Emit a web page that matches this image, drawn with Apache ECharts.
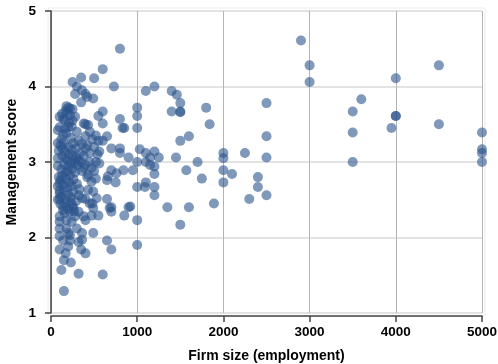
<!DOCTYPE html>
<html><head><meta charset="utf-8">
<script src="https://cdn.jsdelivr.net/npm/echarts@6/dist/echarts.min.js"></script>
<style>html,body{margin:0;padding:0;background:#fff}#c{width:498px;height:364px}</style>
</head><body><div id="c"></div>
<script>
const xTicks = [0, 1000, 2000, 3000, 4000, 5000];
const yTicks = [1, 2, 3, 4, 5];
const largeFirms = [
[2250,3.12],[2300,2.51],[2400,2.80],[2400,2.67],[2500,3.78],[2500,3.34],[2500,3.06],[2500,2.56],
[2900,4.61],[3000,4.28],[3000,4.06],[3500,3.67],[3500,3.39],[3500,3.00],[3600,3.83],
[3950,3.45],[4000,4.11],[4000,3.61],[4000,3.61],[4500,4.28],[4500,3.50],
[5000,3.39],[5000,3.17],[5000,3.12],[5000,3.00]
];
const midFirms = [
[800,4.50],[600,4.23],[730,4.00],[1100,3.94],[1200,4.00],[1400,3.94],[1460,3.89],[1500,3.78],[1400,3.67],[1500,3.67],[1500,3.66],[1800,3.72],[1840,3.50],[1600,3.34],[1500,3.28],
[1000,3.72],[1000,3.61],[1000,3.45],[800,3.57],[850,3.45],[600,3.67],[600,3.51],[650,3.34],[830,3.45],
[700,3.18],[800,3.18],[800,3.12],[900,3.06],[1030,3.17],[1000,3.00],[1100,3.12],[1100,3.00],[1150,3.06],[1200,3.14],[1250,3.06],[1150,2.96],[1200,2.94],[1200,2.84],
[1450,3.06],[1700,3.00],[1570,2.89],[1750,2.78],[2000,3.12],[2000,3.05],[2000,2.89],[2000,2.73],[2100,2.84],
[950,2.89],[840,2.89],[700,2.89],[660,2.81],[760,2.85],[750,2.73],[650,2.76],[1000,2.67],[1090,2.67],[1100,2.73],[1200,2.67],[1200,2.56],
[1350,2.40],[1600,2.40],[1500,2.17],[1890,2.45],[900,2.40],[850,2.29],[1000,2.23],[1000,1.90],[700,2.40],[700,2.34],[650,2.51],[680,2.39],[920,2.41],[650,1.96],[700,1.84],[600,1.51]
];
const smallFirms = [
[500,4.11],[350,4.12],[250,4.06],[300,4.00],[360,3.95],[280,3.90],[400,3.90],[490,3.84],[420,3.86],[350,3.79],[220,3.71],[170,3.68],[200,3.72],[250,3.70],[180,3.74],[140,3.57],[550,3.61],
[100,3.46],[200,3.46],[380,3.51],[430,3.49],[400,3.50],
[550,3.28],[600,3.28],[470,2.92],[430,2.83],[470,2.74],[490,2.61],[430,2.63],[530,2.52],[450,2.45],[490,2.39],[260,2.39],[140,2.36],
[150,1.29],[320,1.52],[120,1.57],[490,2.06],[400,1.79],[350,1.84],[400,2.23],[470,2.29],[550,2.29],[230,1.67],[150,1.70],[170,1.79],[100,1.84],[200,1.88],[140,1.96],[100,2.02],[220,1.96],[320,1.94],[360,1.97],[360,2.06],[220,2.03],[100,2.12],[180,2.12],[300,2.12],[100,2.21],[240,2.21],[100,2.28],[160,2.32],[220,2.34],[380,2.28],[280,2.28],[320,2.34],[270,2.34],[180,2.23],[200,2.06],
[480,2.45],[400,2.51],[100,2.51],[100,2.62],[100,2.72]
];
const denseCluster = [
[80,3.42],[120,3.30],[150,3.25],[180,3.38],[200,3.20],[230,3.32],[260,3.25],[290,3.18],[320,3.28],[340,3.12],
[90,3.15],[130,3.08],[160,3.14],[190,3.02],[210,3.10],[240,3.16],[270,3.04],[300,3.06],[350,3.00],[400,3.18],
[80,2.95],[120,2.90],[150,2.97],[170,2.86],[200,2.94],[220,2.82],[250,2.91],[280,2.86],[310,2.96],[360,2.88],
[90,2.80],[110,2.76],[140,2.70],[170,2.78],[190,2.66],[210,2.73],[240,2.68],[260,2.77],[300,2.71],[330,2.64],
[100,2.58],[120,2.54],[150,2.62],[180,2.50],[200,2.57],[230,2.53],[260,2.60],[290,2.48],[320,2.56],[360,2.52],
[110,2.44],[140,2.41],[170,2.45],[200,2.38],[230,2.46],[250,2.42],
[100,3.60],[130,3.64],[160,3.56],[190,3.66],[220,3.62],[250,3.55],[280,3.60],[210,3.52],[240,3.47],[300,3.40],
[140,3.36],[160,3.44],[110,3.22],[130,3.18],[170,3.05],[230,2.98],[250,3.08],[320,3.02],[380,3.08],[420,3.22],
[450,3.12],[400,2.96],[450,3.00],[380,2.92],[420,2.80],[500,2.88],[520,3.00],[540,3.10],[500,3.20],[560,3.14],[560,2.98],[520,2.78],[480,3.30],[450,3.40],[520,3.35],[400,3.34],[360,3.24],[280,2.98],[190,2.88],[130,2.82],[80,2.68],[80,3.05],[80,2.50],[80,3.25]
];
const allPoints = largeFirms.concat(midFirms, smallFirms, denseCluster);

const chart = echarts.init(document.getElementById('c'), null, {renderer:'canvas'});
const FONT = 'Liberation Sans, Arial, sans-serif';
const labelFont = {color:'#000', fontWeight:'bold', fontSize:13.5, fontFamily:FONT, formatter:function(v){return String(v);}};
chart.setOption({
  animation:false,
  grid:{left:51, right:16, top:11, bottom:51, containLabel:false, outerBoundsMode:'none'},
  graphic:[{type:'rect', shape:{x:48, y:8, width:437, height:308}, style:{fill:'none', stroke:'#ececec', lineWidth:1}, z:0, silent:true}],
  xAxis:{type:'value', min:xTicks[0], max:xTicks[xTicks.length-1], interval:1000, offset:3,
    name:'Firm size (employment)', nameLocation:'middle', nameGap:33, nameMoveOverlap:false,
    nameTextStyle:{color:'#000', fontWeight:'bold', fontSize:14, fontFamily:FONT},
    axisLine:{show:true, lineStyle:{color:'#444', width:1.5}},
    axisTick:{show:true, length:6, lineStyle:{color:'#444', width:1.5}},
    axisLabel:Object.assign({margin:9}, labelFont),
    splitLine:{show:true, lineStyle:{color:'#b4b4b4', width:1}}
  },
  yAxis:{type:'value', min:yTicks[0], max:yTicks[yTicks.length-1], interval:1, offset:3,
    name:'Management score', nameLocation:'middle', nameGap:29, nameMoveOverlap:false,
    nameTextStyle:{color:'#000', fontWeight:'bold', fontSize:14, fontFamily:FONT},
    axisLine:{show:true, lineStyle:{color:'#444', width:1.5}},
    axisTick:{show:true, length:6, lineStyle:{color:'#444', width:1.5}},
    axisLabel:Object.assign({margin:12}, labelFont),
    splitLine:{show:true, lineStyle:{color:'#dadada', width:1.5}}
  },
  series:[{type:'scatter', data:allPoints, symbol:'circle', symbolSize:10,
    itemStyle:{color:'rgba(44,84,140,0.75)', borderWidth:0}}]
});
</script></body></html>
